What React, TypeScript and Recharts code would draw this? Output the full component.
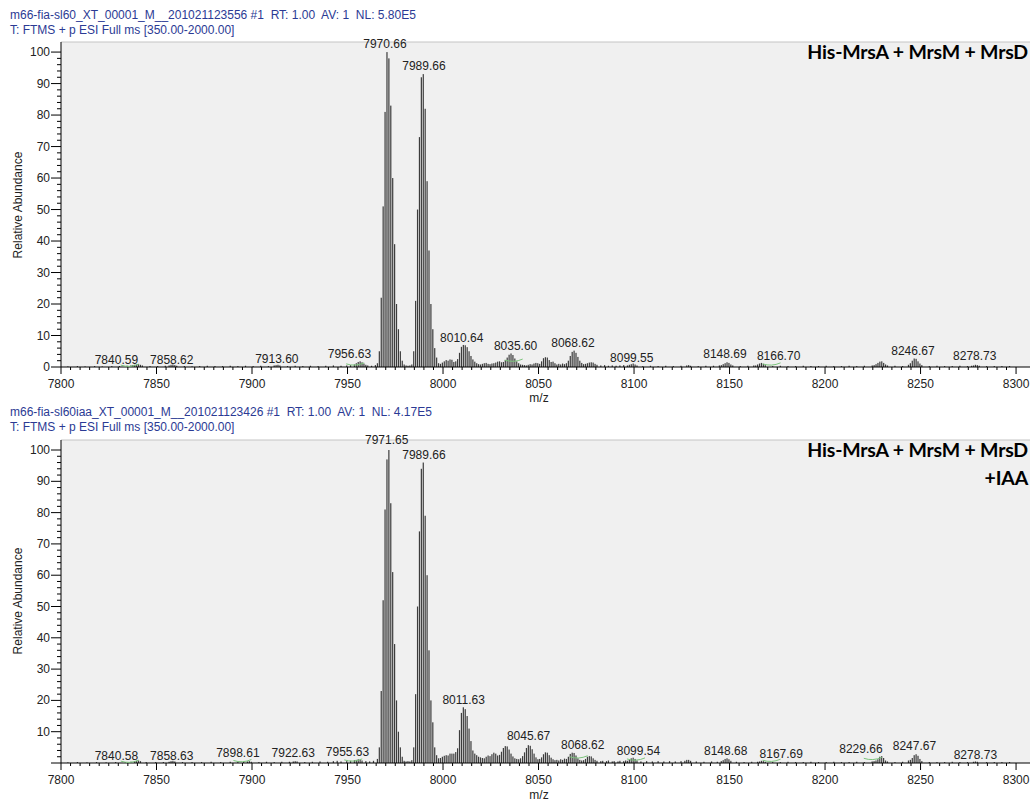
import React from "react";
import { ComposedChart, Bar, Scatter, XAxis, YAxis, CartesianGrid, ReferenceLine } from "recharts";

// m/z axis
const MZ_MIN = 7800;
const MZ_MAX = 8307.3; // plot box runs a little past the last tick
const MZ_MAJOR = [7800, 7850, 7900, 7950, 8000, 8050, 8100, 8150, 8200, 8250, 8300];
const MZ_TICKS = Array.from({ length: 101 }, (_, i) => 7800 + i * 5);
const AB_MAX = 103.2;
const AB_TICKS = Array.from({ length: 51 }, (_, i) => i * 2);

// spectrum 1: m66-fia-sl60
const topMz = [
  7803.6, 7808.6, 7812.6, 7817.6, 7821.6, 7826.6, 7830.6, 7834.6, 7836.6, 7837.6, 7838.6, 7839.6, 7840.6, 7841.6, 7842.6,
  7846.6, 7850.6, 7854.6, 7856.6, 7857.6, 7858.6, 7859.6, 7860.6, 7864.6, 7868.6, 7872.6, 7876.6, 7880.6, 7884.6, 7888.6,
  7892.6, 7896.6, 7900.6, 7904.6, 7908.6, 7911.6, 7912.6, 7913.6, 7914.6, 7918.6, 7922.6, 7926.6, 7930.6, 7934.6, 7938.6,
  7942.6, 7946.6, 7949.6, 7951.6, 7953.6, 7954.6, 7955.6, 7956.6, 7957.6, 7958.6, 7959.6, 7960.6, 7962.6, 7964.6,
  7965.66, 7966.66, 7967.66, 7968.66, 7969.66, 7970.66, 7971.66, 7972.66, 7973.66, 7974.66, 7975.66, 7976.66, 7977.66, 7978.66,
  7979.66, 7980.66, 7981.66, 7982.66, 7983.66,
  7984.66, 7985.66, 7986.66, 7987.66, 7988.66, 7989.66, 7990.66, 7991.66, 7992.66, 7993.66, 7994.66, 7995.66, 7996.66,
  7997.66, 7998.66, 7999.66, 8000.66, 8001.66, 8002.66, 8003.66, 8004.66, 8005.66, 8006.66,
  8007.64, 8008.64, 8009.64, 8010.64, 8011.64, 8012.64, 8013.64, 8014.64, 8015.64, 8016.64, 8017.64,
  8018.6, 8019.6, 8020.6, 8021.6, 8022.6, 8023.6, 8024.6, 8025.6, 8026.6, 8027.6, 8028.6, 8029.6, 8030.6, 8031.6,
  8032.6, 8033.6, 8034.6, 8035.6, 8036.6, 8037.6, 8038.6, 8039.6, 8040.6, 8041.6, 8042.6, 8043.6, 8044.6, 8045.6,
  8046.6, 8047.6, 8048.6, 8049.6, 8050.6, 8051.6, 8052.6, 8053.6, 8054.6, 8055.6, 8056.6, 8057.6, 8058.6, 8059.6,
  8060.6, 8061.6, 8062.6, 8063.6, 8064.6, 8065.62, 8066.62, 8067.62, 8068.62, 8069.62, 8070.62, 8071.62, 8072.62,
  8073.6, 8074.6, 8075.6, 8076.6, 8077.6, 8078.6, 8079.6, 8080.6, 8082.6, 8084.6, 8086.6, 8088.6, 8090.6, 8092.6, 8094.6,
  8096.55, 8097.55, 8098.55, 8099.55, 8100.55, 8101.55, 8104.6, 8108.6, 8112.6, 8116.6, 8120.6, 8124.6, 8127.6, 8128.6,
  8129.6, 8133.6, 8137.6, 8141.6, 8144.69, 8145.69, 8146.69, 8147.69, 8148.69, 8149.69, 8150.69, 8151.69, 8155.6, 8159.6,
  8162.7, 8163.7, 8164.7, 8165.7, 8166.7, 8167.7, 8168.7, 8172.6, 8176.6, 8180.6, 8184.6, 8188.6, 8192.6, 8196.6, 8200.6,
  8204.6, 8208.6, 8212.6, 8216.6, 8220.6, 8224.7, 8225.7, 8226.7, 8227.7, 8228.7, 8229.7, 8230.7, 8231.7, 8232.7, 8236.6,
  8240.6, 8243.67, 8244.67, 8245.67, 8246.67, 8247.67, 8248.67, 8249.67, 8250.67, 8254.6, 8258.6, 8262.6, 8266.6, 8270.6,
  8274.6, 8276.73, 8277.73, 8278.73, 8279.73, 8280.73, 8284.6, 8288.6, 8292.6, 8296.6,
];
const topAbundance = [
  0.2, 0.3, 0.2, 0.3, 0.2, 0.3, 0.3, 0.4, 0.5, 0.6, 0.7, 0.8, 0.9, 0.7, 0.5,
  0.3, 0.3, 0.4, 0.5, 0.7, 0.8, 0.6, 0.4, 0.3, 0.2, 0.3, 0.4, 0.3, 0.3, 0.4,
  0.3, 0.4, 0.3, 0.4, 0.3, 0.5, 0.6, 0.7, 0.5, 0.3, 0.4, 0.3, 0.4, 0.3, 0.4,
  0.5, 0.4, 0.5, 0.6, 0.8, 1.2, 1.6, 1.8, 1.5, 1.1, 0.7, 0.5, 0.4, 0.6,
  1.2, 5, 22, 51, 81, 100, 98, 83, 60, 39, 20, 12, 5, 2,
  0.8, 0.5, 0.4, 0.5, 0.8,
  5, 21, 50, 73, 92, 93, 82, 59, 37, 20, 12, 6, 3,
  1.2, 1.0, 1.4, 1.8, 2.2, 2.0, 2.4, 2.3, 1.6, 1.8,
  2.5, 4.5, 6.4, 7.0, 6.9, 6.3, 5.0, 3.5, 2.4, 1.7, 1.2,
  0.9, 0.8, 1.0, 1.2, 1.3, 1.0, 0.9, 1.1, 1.2, 1.4, 1.7, 1.8, 1.5, 1.6,
  2.2, 3.0, 3.9, 4.3, 3.8, 2.7, 1.8, 1.2, 0.8, 0.7, 0.6, 0.5, 0.7, 0.9,
  0.8, 1.1, 1.3, 1.2, 1.0, 1.8, 2.8, 3.1, 3.0, 2.2, 1.6, 1.7, 1.2, 0.8,
  1.0, 0.8, 1.1, 0.9, 1.2, 2.0, 3.5, 4.8, 5.2, 4.5, 3.2, 2.0, 1.3,
  0.9, 1.0, 1.2, 1.4, 1.5, 1.4, 1.0, 0.7, 0.5, 0.6, 0.4, 0.5, 0.4, 0.5, 0.6,
  0.5, 0.7, 0.9, 1.1, 0.8, 0.5, 0.3, 0.4, 0.3, 0.4, 0.3, 0.4, 0.5, 0.6,
  0.4, 0.3, 0.4, 0.4, 0.5, 0.6, 0.9, 1.2, 1.5, 1.3, 0.8, 0.5, 0.3, 0.4,
  0.5, 0.5, 0.8, 1.1, 1.3, 1.0, 0.6, 0.3, 0.4, 0.3, 0.3, 0.4, 0.3, 0.3, 0.4,
  0.3, 0.3, 0.4, 0.3, 0.4, 0.5, 0.6, 0.9, 1.3, 1.7, 1.8, 1.3, 0.8, 0.5, 0.4,
  0.3, 0.7, 1.2, 2.0, 2.7, 2.6, 1.8, 1.1, 0.6, 0.3, 0.4, 0.3, 0.3, 0.4,
  0.3, 0.4, 0.5, 0.7, 0.6, 0.4, 0.3, 0.3, 0.3, 0.3,
];
const topPeakText = ["7840.59", "7858.62", "7913.60", "7956.63", "7970.66", "7989.66", "8010.64", "8035.60", "8068.62", "8099.55", "8148.69", "8166.70", "8246.67", "8278.73"];
const topPeakMz = [7829, 7858, 7913, 7951, 7969.6, 7990, 8009.8, 8038, 8068, 8098.8, 8147.6, 8175.7, 8246, 8278.4];
const topPeakAb = [1.1, 1.1, 1.4, 3.0, 101.4, 94.4, 7.9, 5.3, 6.5, 1.7, 2.7, 2.2, 3.7, 2.1];
// little green charge-envelope marks under some labels
const topMarkMz = [7836, 7954, 8037, 8172];
const topMarkAb = [0.6, 1.0, 2.2, 1.0];

// spectrum 2: m66-fia-sl60iaa
const bottomMz = [
  7803.6, 7808.6, 7813.6, 7818.6, 7823.6, 7828.6, 7833.6, 7836.6, 7838.6, 7839.6, 7840.6, 7841.6, 7844.6, 7849.6, 7853.6,
  7856.6, 7857.6, 7858.6, 7859.6, 7863.6, 7868.6, 7873.6, 7878.6, 7883.6, 7888.6, 7892.6, 7895.6, 7897.6, 7898.6, 7899.6,
  7903.6, 7907.6, 7911.6, 7915.6, 7919.6, 7921.6, 7922.6, 7923.6, 7927.6, 7931.6, 7935.6, 7939.6, 7942.6, 7944.6, 7946.6,
  7949.6, 7951.6, 7953.6, 7954.6, 7955.6, 7956.6, 7957.6, 7959.6, 7961.6, 7963.6,
  7965.65, 7966.65, 7967.65, 7968.65, 7969.65, 7970.65, 7971.65, 7972.65, 7973.65, 7974.65, 7975.65, 7976.65, 7977.65, 7978.65,
  7979.65, 7980.65, 7981.65, 7982.65, 7983.65,
  7984.66, 7985.66, 7986.66, 7987.66, 7988.66, 7989.66, 7990.66, 7991.66, 7992.66, 7993.66, 7994.66, 7995.66, 7996.66,
  7997.66, 7998.66, 7999.66, 8000.66, 8001.66, 8002.66, 8003.66, 8004.66, 8005.66, 8006.66,
  8007.63, 8008.63, 8009.63, 8010.63, 8011.63, 8012.63, 8013.63, 8014.63, 8015.63, 8016.63, 8017.63,
  8018.6, 8019.6, 8020.6, 8021.6, 8022.6, 8023.6, 8024.6, 8025.6, 8026.6, 8027.6, 8028.6, 8029.6, 8030.6, 8031.6,
  8032.6, 8033.6, 8034.6, 8035.6, 8036.6, 8037.6, 8038.6, 8039.6, 8040.6, 8041.67, 8042.67, 8043.67, 8044.67, 8045.67,
  8046.67, 8047.67, 8048.67, 8049.67, 8050.6, 8051.6, 8052.6, 8053.6, 8054.6, 8055.6, 8056.6, 8057.6, 8058.6, 8059.6,
  8060.6, 8061.6, 8062.6, 8063.6, 8064.62, 8065.62, 8066.62, 8067.62, 8068.62, 8069.62, 8070.62, 8071.6, 8072.6, 8073.6,
  8074.6, 8075.6, 8076.6, 8077.6, 8078.6, 8079.6, 8080.6, 8082.6, 8083.6, 8085.6, 8086.6, 8088.6, 8089.6, 8091.6, 8092.6,
  8094.6, 8095.6, 8096.54, 8097.54, 8098.54, 8099.54, 8100.54, 8101.54, 8103.6, 8106.6, 8109.6, 8112.6, 8115.6, 8118.6,
  8121.6, 8124.6, 8126.6, 8127.6, 8128.6, 8129.6, 8132.6, 8136.6, 8140.6, 8143.6, 8145.68, 8146.68, 8147.68, 8148.68,
  8149.68, 8150.68, 8153.6, 8157.6, 8161.6, 8164.7, 8165.7, 8166.7, 8167.7, 8168.7, 8172.6, 8176.6, 8180.6, 8184.6, 8188.6,
  8192.6, 8196.6, 8200.6, 8204.6, 8208.6, 8212.6, 8216.6, 8220.6, 8224.66, 8225.66, 8226.66, 8227.66, 8228.66, 8229.66,
  8230.66, 8231.66, 8232.66, 8236.6, 8240.6, 8243.67, 8244.67, 8245.67, 8246.67, 8247.67, 8248.67, 8249.67, 8250.67,
  8254.6, 8258.6, 8262.6, 8266.6, 8270.6, 8274.6, 8277.73, 8278.73, 8279.73, 8284.6, 8288.6, 8292.6, 8296.6,
];
const bottomAbundance = [
  0.2, 0.3, 0.2, 0.3, 0.2, 0.3, 0.3, 0.4, 0.6, 0.7, 0.8, 0.6, 0.3, 0.3, 0.3,
  0.4, 0.6, 0.7, 0.5, 0.3, 0.3, 0.3, 0.4, 0.3, 0.4, 0.3, 0.4, 0.5, 0.6, 0.4,
  0.3, 0.4, 0.3, 0.4, 0.4, 0.5, 0.6, 0.5, 0.3, 0.4, 0.5, 0.4, 0.6, 0.7, 0.5,
  0.6, 0.7, 0.9, 1.0, 1.2, 1.0, 0.8, 0.6, 0.5, 0.7,
  1.3, 5, 23, 52, 81, 97, 100, 83, 61, 38, 20, 10, 5, 2,
  0.7, 0.5, 0.6, 0.5, 0.9,
  5, 22, 50, 74, 94, 96, 79, 60, 36, 20, 13, 5, 2.5,
  1.5, 1.6, 2.0, 2.3, 2.5, 2.4, 3.0, 3.0, 3.0, 3.5,
  4.7, 10.5, 16, 17.8, 17.2, 15, 11, 7, 4, 3, 2.5,
  2.0, 1.8, 1.6, 1.5, 2.0, 2.4, 2.2, 2.8, 3.3, 3.0, 2.4, 2.6, 3.6, 4.8,
  5.4, 5.3, 4.3, 3.0, 2.1, 1.5, 1.3, 1.2, 1.5, 2.2, 3.4, 4.8, 5.7, 5.5,
  4.4, 3.0, 1.8, 1.2, 1.3, 1.8, 2.8, 3.4, 3.3, 2.5, 1.7, 1.2, 0.9, 1.0,
  0.8, 1.2, 1.0, 1.4, 1.3, 2.0, 2.9, 3.3, 3.2, 2.4, 1.5, 1.0, 0.8, 0.9,
  1.3, 2.0, 2.2, 2.1, 1.5, 1.0, 0.7, 0.6, 0.7, 0.6, 0.8, 0.5, 0.6, 0.5, 0.7,
  0.6, 0.8, 0.7, 1.0, 1.5, 1.7, 1.3, 0.8, 0.5, 0.6, 0.5, 0.6, 0.5, 0.6,
  0.5, 0.6, 0.7, 1.0, 1.0, 0.7, 0.5, 0.4, 0.5, 0.4, 0.6, 0.9, 1.3, 1.5,
  1.2, 0.7, 0.4, 0.3, 0.4, 0.4, 0.5, 0.7, 0.6, 0.4, 0.3, 0.3, 0.4, 0.3, 0.3,
  0.4, 0.3, 0.3, 0.4, 0.3, 0.3, 0.4, 0.3, 0.5, 0.6, 0.8, 1.2, 2.0, 2.2,
  1.6, 0.8, 0.5, 0.3, 0.4, 0.8, 1.0, 1.6, 2.5, 2.8, 2.3, 1.3, 0.6,
  0.3, 0.3, 0.3, 0.4, 0.3, 0.3, 0.4, 0.5, 0.4, 0.3, 0.3, 0.3, 0.3,
];
const bottomPeakText = ["7840.58", "7858.63", "7898.61", "7922.63", "7955.63", "7971.65", "7989.66", "8011.63", "8045.67", "8068.62", "8099.54", "8148.68", "8167.69", "8229.66", "8247.67", "8278.73"];
const bottomPeakMz = [7829, 7858, 7892.6, 7921.6, 7950, 7970.5, 7990, 8010.8, 8044.8, 8073.1, 8102.3, 8148, 8177.1, 8218.8, 8246.8, 8278.7];
const bottomPeakAb = [1.1, 1.1, 1.8, 1.9, 2.2, 101.8, 97.0, 19.0, 7.3, 4.5, 2.7, 2.7, 1.7, 3.3, 4.0, 1.4];
const bottomMarkMz = [7836, 7895, 7953, 8071, 8101, 8172, 8225];
const bottomMarkAb = [0.6, 0.8, 1.0, 2.0, 1.3, 0.9, 1.5];

const toRows = (mz: number[], ab: number[]) => mz.map((m, i) => ({ mz: m, ab: ab[i] }));
const toLabels = (text: string[], mz: number[], ab: number[]) =>
  text.map((t, i) => ({ mz: mz[i], ab: ab[i], text: t }));

const FONT = "'Liberation Sans', Arial, sans-serif";
const HEADER_BLUE = "#2b3a94";

function MzTick({ x, y, payload }: any) {
  const v = payload.value;
  const major = MZ_MAJOR.includes(v);
  return (
    <g>
      <line x1={x} x2={x} y1={y} y2={y + (major ? 7 : 3)} stroke="#000" strokeWidth={1} />
      {major && (
        <text x={x} y={y + 21} textAnchor="middle" fontSize={12} fontFamily={FONT} fill="#222">
          {v}
        </text>
      )}
    </g>
  );
}

function makeAbTick(showZero: boolean) {
  return ({ x, y, payload }: any) => {
    const v = payload.value;
    const major = v % 10 === 0;
    return (
      <g>
        <line x1={x - (major ? 10 : 4)} x2={x} y1={y} y2={y} stroke="#000" strokeWidth={1} />
        {major && (showZero || v !== 0) && (
          <text x={x - 11} y={y + 4} textAnchor="end" fontSize={12} fontFamily={FONT} fill="#222">
            {v}
          </text>
        )}
      </g>
    );
  };
}

// each centroid drawn as a thin stick centred on its bar slot
function Stick(props: any) {
  const { x, y, width, height } = props;
  if (!Number.isFinite(x) || !Number.isFinite(height) || height <= 0) return null;
  const cx = x + width / 2;
  return <rect x={cx - 0.6} y={y} width={1.2} height={height} fill="#3c3c3c" />;
}

function PeakText(props: any) {
  const { cx, cy, payload } = props;
  return (
    <text x={cx} y={cy} textAnchor="middle" fontSize={12} fontFamily={FONT} fill="#222">
      {payload.text}
    </text>
  );
}

function GreenMark(props: any) {
  const { cx, cy } = props;
  if (!Number.isFinite(cx)) return null;
  return (
    <path
      d={`M${cx - 9},${cy} Q${cx},${cy + 3} ${cx + 9},${cy - 1}`}
      fill="none"
      stroke="#7cc47c"
      strokeWidth={1}
    />
  );
}

function Spectrum({
  height,
  marginTop,
  axisHeight,
  rows,
  labels,
  marks,
  showZero,
}: {
  height: number;
  marginTop: number;
  axisHeight: number;
  rows: { mz: number; ab: number }[];
  labels: { mz: number; ab: number; text: string }[];
  marks: { mz: number; ab: number }[];
  showZero: boolean;
}) {
  return (
    <ComposedChart
      width={1033}
      height={height}
      data={rows}
      margin={{ top: marginTop, right: 3, bottom: 3, left: 0 }}
    >
      <CartesianGrid fill="#f0f0f0" horizontal={false} vertical={false} />
      <ReferenceLine y={AB_MAX} stroke="#c4c4c4" />
      <XAxis
        dataKey="mz"
        type="number"
        domain={[MZ_MIN, MZ_MAX]}
        ticks={MZ_TICKS}
        interval={0}
        tick={<MzTick />}
        tickLine={false}
        tickSize={0}
        tickMargin={0}
        height={axisHeight}
        axisLine={{ stroke: "#000" }}
      />
      <YAxis
        type="number"
        domain={[0, AB_MAX]}
        ticks={AB_TICKS}
        interval={0}
        tick={makeAbTick(showZero)}
        tickLine={false}
        tickSize={0}
        tickMargin={0}
        width={61}
        axisLine={{ stroke: "#000" }}
      />
      <Bar dataKey="ab" barSize={2} shape={<Stick />} isAnimationActive={false} />
      <Scatter data={marks} dataKey="ab" shape={<GreenMark />} isAnimationActive={false} />
      <Scatter data={labels} dataKey="ab" shape={<PeakText />} isAnimationActive={false} />
    </ComposedChart>
  );
}

function Header({ top, lines }: { top: number; lines: string[] }) {
  return (
    <div
      style={{
        position: "absolute",
        left: 10,
        top,
        fontFamily: FONT,
        fontSize: 12,
        lineHeight: "14.5px",
        color: HEADER_BLUE,
        whiteSpace: "pre",
      }}
    >
      {lines.map((l) => (
        <div key={l}>{l}</div>
      ))}
    </div>
  );
}

function AxisTitle({ centerY }: { centerY: number }) {
  return (
    <div
      style={{
        position: "absolute",
        left: 18,
        top: centerY,
        transform: "translate(-50%, -50%) rotate(-90deg)",
        fontFamily: FONT,
        fontSize: 12,
        color: "#222",
        whiteSpace: "nowrap",
      }}
    >
      Relative Abundance
    </div>
  );
}

function MzTitle({ centerY }: { centerY: number }) {
  return (
    <div
      style={{
        position: "absolute",
        left: 539,
        top: centerY,
        transform: "translate(-50%, -50%)",
        fontFamily: FONT,
        fontSize: 12,
        color: "#222",
      }}
    >
      m/z
    </div>
  );
}

function Tag({ top, lines }: { top: number; lines: string[] }) {
  return (
    <div
      style={{
        position: "absolute",
        right: 5,
        top,
        textAlign: "right",
        fontFamily: "Lato, 'Open Sans', sans-serif",
        fontWeight: 700,
        fontSize: 19.5,
        letterSpacing: -0.2,
        lineHeight: "28px",
        color: "#000",
        whiteSpace: "nowrap",
      }}
    >
      {lines.map((l) => (
        <div key={l}>{l}</div>
      ))}
    </div>
  );
}

export default function App() {
  const topRows = toRows(topMz, topAbundance);
  const bottomRows = toRows(bottomMz, bottomAbundance);
  const topLabels = toLabels(topPeakText, topPeakMz, topPeakAb);
  const bottomLabels = toLabels(bottomPeakText, bottomPeakMz, bottomPeakAb);
  const topMarks = toRows(topMarkMz, topMarkAb);
  const bottomMarks = toRows(bottomMarkMz, bottomMarkAb);

  return (
    <div
      style={{
        position: "absolute",
        left: 0,
        top: 0,
        width: 1033,
        height: 803,
        background: "#fff",
        overflow: "hidden",
      }}
    >
      <div style={{ position: "absolute", left: 0, top: 0 }}>
        <Spectrum height={400} marginTop={42} axisHeight={30} rows={topRows} labels={topLabels} marks={topMarks} showZero />
      </div>
      <div style={{ position: "absolute", left: 0, top: 400 }}>
        <Spectrum
          height={403}
          marginTop={40}
          axisHeight={37}
          rows={bottomRows}
          labels={bottomLabels}
          marks={bottomMarks}
          showZero={false}
        />
      </div>
      <Header
        top={8}
        lines={[
          "m66-fia-sl60_XT_00001_M__201021123556 #1  RT: 1.00  AV: 1  NL: 5.80E5",
          "T: FTMS + p ESI Full ms [350.00-2000.00]",
        ]}
      />
      <Header
        top={405}
        lines={[
          "m66-fia-sl60iaa_XT_00001_M__201021123426 #1  RT: 1.00  AV: 1  NL: 4.17E5",
          "T: FTMS + p ESI Full ms [350.00-2000.00]",
        ]}
      />
      <AxisTitle centerY={205} />
      <AxisTitle centerY={601} />
      <MzTitle centerY={398} />
      <MzTitle centerY={795} />
      <Tag top={38} lines={["His-MrsA + MrsM + MrsD"]} />
      <Tag top={436} lines={["His-MrsA + MrsM + MrsD", "+IAA"]} />
    </div>
  );
}
